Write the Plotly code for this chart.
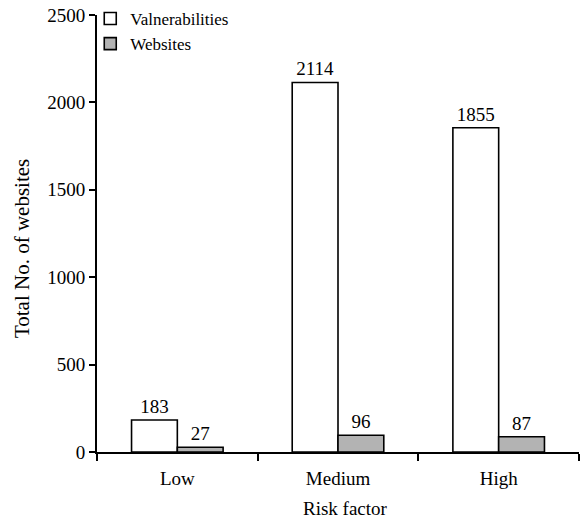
import plotly.graph_objects as go

# Risk factor categories and counts per series
risk_levels = ["Low", "Medium", "High"]
vulnerabilities = [183, 2114, 1855]
websites = [27, 96, 87]

# y-axis ticks
y_ticks = [0, 500, 1000, 1500, 2000, 2500]

serif = "Liberation Serif, Times New Roman, serif"


def tfont(size):
    return dict(family=serif, size=size, color="black")


fig = go.Figure()
fig.add_trace(go.Bar(
    name="Valnerabilities",
    x=risk_levels,
    y=vulnerabilities,
    marker=dict(color="white", line=dict(color="black", width=1.6)),
    text=vulnerabilities,
    textposition="outside",
    textfont=tfont(19),
    cliponaxis=False,
    constraintext="none",
))
fig.add_trace(go.Bar(
    name="Websites",
    x=risk_levels,
    y=websites,
    marker=dict(color="#b3b3b3", line=dict(color="black", width=1.6)),
    text=websites,
    textposition="outside",
    textfont=tfont(19),
    cliponaxis=False,
    constraintext="none",
))

fig.update_layout(
    width=584,
    height=523,
    margin=dict(l=97, r=5, t=15, b=71, autoexpand=False),
    paper_bgcolor="white",
    plot_bgcolor="white",
    barmode="group",
    bargap=0.43,
    bargroupgap=0,
    font=tfont(19),
    showlegend=True,
    legend=dict(
        x=-0.014, y=1.032, xanchor="left", yanchor="top",
        bgcolor="rgba(0,0,0,0)",
        font=tfont(17),
        itemwidth=30,
        tracegroupgap=0,
    ),
    xaxis=dict(
        showline=True, linecolor="black", linewidth=2,
        ticks="outside", tickson="boundaries", ticklen=7, tickwidth=2,
        tickcolor="black",
        showgrid=False, zeroline=False,
        tickfont=tfont(19),
        ticklabelstandoff=8,
    ),
    yaxis=dict(
        range=[0, 2500],
        tickvals=y_ticks,
        showline=True, linecolor="black", linewidth=2,
        ticks="outside", ticklen=6, tickwidth=2, tickcolor="black",
        showgrid=False, zeroline=False,
        tickfont=tfont(19),
    ),
    annotations=[
        dict(text="Risk factor", xref="paper", yref="paper",
             x=0.515, y=-0.13, xanchor="center", yanchor="middle",
             showarrow=False, font=tfont(19)),
        dict(text="Total No. of websites", xref="paper", yref="paper",
             x=-0.157, y=0.465, xanchor="center", yanchor="middle",
             textangle=-90, showarrow=False, font=tfont(21)),
    ],
)

fig.write_html("out.html")
